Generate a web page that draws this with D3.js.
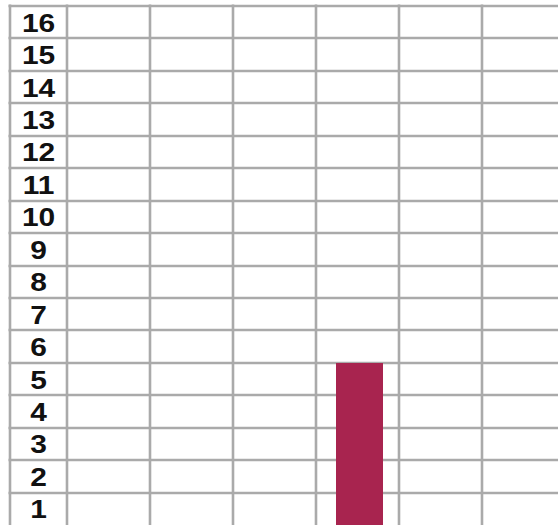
<!DOCTYPE html>
<html>
<head>
<meta charset="utf-8">
<script src="https://cdn.jsdelivr.net/npm/d3@7"></script>
<style>
  html, body { margin: 0; padding: 0; background: #ffffff; }
  svg { display: block; }
</style>
</head>
<body>
<div id="chart"></div>
<script>
// ---- data ----
const rowLabels = ["1","2","3","4","5","6","7","8","9","10","11","12","13","14","15","16"];
const categories = ["c1","c2","c3","c4","c5","c6"];
const values = [0, 0, 0, 5, 0, 0];

// ---- layout ----
const W = 558, H = 525;
const gridLeft = 10, labelRight = 67, gridTop = 6, gridBottom = 525, colEnd = 565;
const gridColor = "#aaaaaa";
const barColor = "#a8244f";
const sw = 2.6;

const svg = d3.select("#chart").append("svg")
  .attr("width", W).attr("height", H);

const y = d3.scaleLinear().domain([0, rowLabels.length]).range([gridBottom, gridTop]);
const xCol = d3.scaleBand().domain(categories).range([labelRight, colEnd]);
const xBar = d3.scaleBand().domain(categories).range([labelRight, colEnd])
  .paddingInner(0.434).paddingOuter(0.217);

// grid: horizontal lines
const hTicks = d3.range(1, rowLabels.length + 1);
svg.append("g").selectAll("line").data(hTicks).join("line")
  .attr("x1", gridLeft - 1.5).attr("x2", W)
  .attr("y1", d => Math.round(y(d))).attr("y2", d => Math.round(y(d)))
  .attr("stroke", gridColor).attr("stroke-width", sw);

// grid: vertical lines
const vEdges = [gridLeft].concat(categories.map(c => Math.round(xCol(c))));
svg.append("g").selectAll("line").data(vEdges).join("line")
  .attr("x1", d => d).attr("x2", d => d)
  .attr("y1", gridTop - 1.5).attr("y2", gridBottom)
  .attr("stroke", gridColor).attr("stroke-width", sw);

// row labels
const labelCx = (gridLeft + labelRight) / 2;
svg.append("g").selectAll("text").data(rowLabels).join("text")
  .attr("transform", (d, i) => `translate(${labelCx},${(y(i) + y(i + 1)) / 2 + 9.5}) scale(1.15,1)`)
  .attr("text-anchor", "middle")
  .attr("font-family", "'Liberation Sans', Arial, sans-serif")
  .attr("font-weight", "bold")
  .attr("font-size", 26)
  .attr("fill", "#111111")
  .text(d => d);

// bars
svg.append("g").selectAll("rect")
  .data(categories.map((c, i) => ({ c, v: values[i] })).filter(d => d.v > 0))
  .join("rect")
  .attr("x", d => Math.round(xBar(d.c)) + 2)
  .attr("width", Math.round(xBar.bandwidth()))
  .attr("y", d => Math.round(y(d.v)))
  .attr("height", d => y(0) - Math.round(y(d.v)))
  .attr("fill", barColor);
</script>
</body>
</html>
